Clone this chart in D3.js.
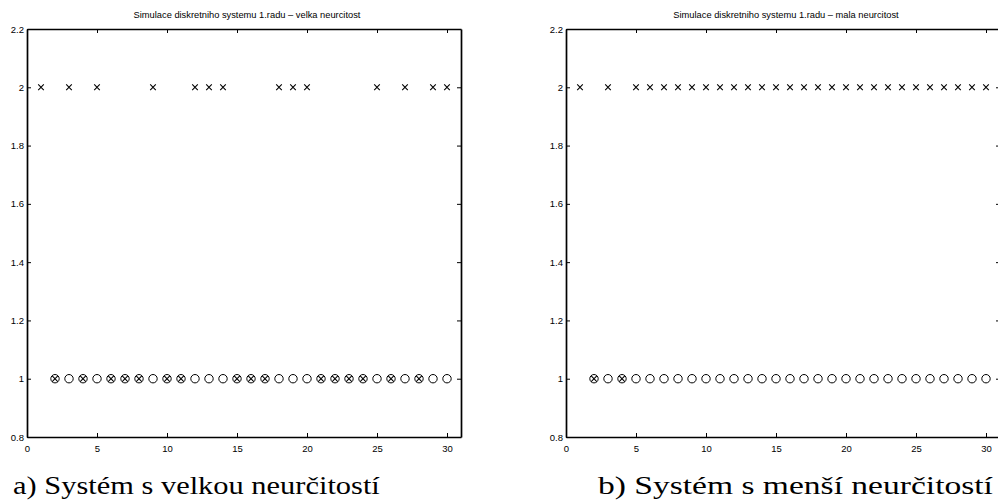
<!DOCTYPE html>
<html>
<head>
<meta charset="utf-8">
<script src="https://cdn.jsdelivr.net/npm/d3@7"></script>
</head>
<body style="margin:0;background:#fff">
<svg id="chart" width="998" height="500"></svg>
<script>
// simulation steps k = 1..30
var steps = [1, 2, 3, 4, 5, 6, 7, 8, 9, 10, 11, 12, 13, 14, 15,
             16, 17, 18, 19, 20, 21, 22, 23, 24, 25, 26, 27, 28, 29, 30];
// estimated output (x markers), left = large uncertainty, right = small
var estLarge = [2, 1, 2, 1, 2, 1, 1, 1, 2, 1, 1, 2, 2, 2, 1,
                1, 1, 2, 2, 2, 1, 1, 1, 1, 2, 1, 2, 1, 2, 2];
var estSmall = [2, 1, 2, 1, 2, 2, 2, 2, 2, 2, 2, 2, 2, 2, 2,
                2, 2, 2, 2, 2, 2, 2, 2, 2, 2, 2, 2, 2, 2, 2];
// real output (o markers) from k = 2
var refSteps = [2, 3, 4, 5, 6, 7, 8, 9, 10, 11, 12, 13, 14, 15, 16,
                17, 18, 19, 20, 21, 22, 23, 24, 25, 26, 27, 28, 29, 30];
var refVals = [1, 1, 1, 1, 1, 1, 1, 1, 1, 1, 1, 1, 1, 1, 1,
               1, 1, 1, 1, 1, 1, 1, 1, 1, 1, 1, 1, 1, 1];
var xTicks = [0, 5, 10, 15, 20, 25, 30];
var yTicks = [0.8, 1, 1.2, 1.4, 1.6, 1.8, 2, 2.2];
var titles = ["Simulace diskretniho systemu 1.radu \u2013 velka neurcitost",
              "Simulace diskretniho systemu 1.radu \u2013 mala neurcitost"];
var captions = ["a) Syst\u00e9m s velkou neur\u010ditost\u00ed",
                "b) Syst\u00e9m s men\u0161\u00ed neur\u010ditost\u00ed"];

var svg = d3.select("#chart");
var top_ = 29, bottom = 437, unit = 14;
var sans = "'Liberation Sans'";

// one MATLAB-like subplot
function makePanel(left, est, title, caption, capX, capSize) {
  var x = d3.scaleLinear().domain([0, 31]).range([left, left + 31 * unit]);
  var y = d3.scaleLinear().domain([0.8, 2.2]).range([bottom, top_]);
  var g = svg.append("g");

  var fmt = function(d) { return String(+d.toFixed(1)); };

  g.append("g").attr("transform", "translate(0," + bottom + ")")
    .call(d3.axisBottom(x).tickValues(xTicks).tickSizeInner(-4).tickSizeOuter(0).tickPadding(8));
  g.append("g").attr("transform", "translate(0," + top_ + ")")
    .call(d3.axisTop(x).tickValues(xTicks).tickSizeInner(-4).tickSizeOuter(0).tickFormat(""));
  g.append("g").attr("transform", "translate(" + left + ",0)")
    .call(d3.axisLeft(y).tickValues(yTicks).tickSizeInner(-4).tickSizeOuter(0).tickPadding(3).tickFormat(fmt));
  g.append("g").attr("transform", "translate(" + (left + 31 * unit) + ",0)")
    .call(d3.axisRight(y).tickValues(yTicks).tickSizeInner(-4).tickSizeOuter(0).tickFormat(""));

  g.selectAll(".tick text")
    .attr("font-family", sans)
    .attr("font-size", 9.5)
    .attr("fill", "#000");
  g.selectAll(".tick line").attr("stroke", "#000").attr("stroke-width", 1);
  g.selectAll(".domain").attr("stroke", "#000").attr("stroke-width", 1.7);

  // circles: real output
  g.selectAll(".ref")
    .data(refSteps)
    .enter().append("circle")
    .attr("class", "ref")
    .attr("cx", function(d) { return x(d); })
    .attr("cy", function(d, i) { return y(refVals[i]); })
    .attr("r", 4.2)
    .attr("fill", "none")
    .attr("stroke", "#000")
    .attr("stroke-width", 1);

  // crosses: estimated output
  var s = 2.8;
  g.selectAll(".est")
    .data(steps)
    .enter().append("path")
    .attr("class", "est")
    .attr("d", function(d, i) {
      var cx = x(d), cy = y(est[i]);
      return "M" + (cx - s) + "," + (cy - s) + "L" + (cx + s) + "," + (cy + s) +
             "M" + (cx - s) + "," + (cy + s) + "L" + (cx + s) + "," + (cy - s);
    })
    .attr("stroke", "#000")
    .attr("stroke-width", 1.1);

  g.append("text")
    .attr("x", (x(0) + x(31)) / 2 + 3)
    .attr("y", 18)
    .attr("text-anchor", "middle")
    .attr("font-family", sans)
    .attr("font-size", 9.3)
    .text(title);

  return g.append("text")
    .attr("transform", "translate(" + capX + ",494)")
    .attr("font-family", "'Liberation Serif'")
    .attr("font-size", capSize)
    .text(caption);
}

var capA = makePanel(27, estLarge, titles[0], captions[0], 13, 25);
var capB = makePanel(566, estSmall, titles[1], captions[1], 598, 26);

// stretch the serif captions to the width of the LaTeX font
function stretch(cap, x0, width) {
  var sx = width / cap.node().getComputedTextLength();
  cap.attr("transform", "translate(" + x0 + ",494) scale(" + sx + ",1)");
}
stretch(capA, 13, 367);
stretch(capB, 598, 395);
</script>
</body>
</html>
